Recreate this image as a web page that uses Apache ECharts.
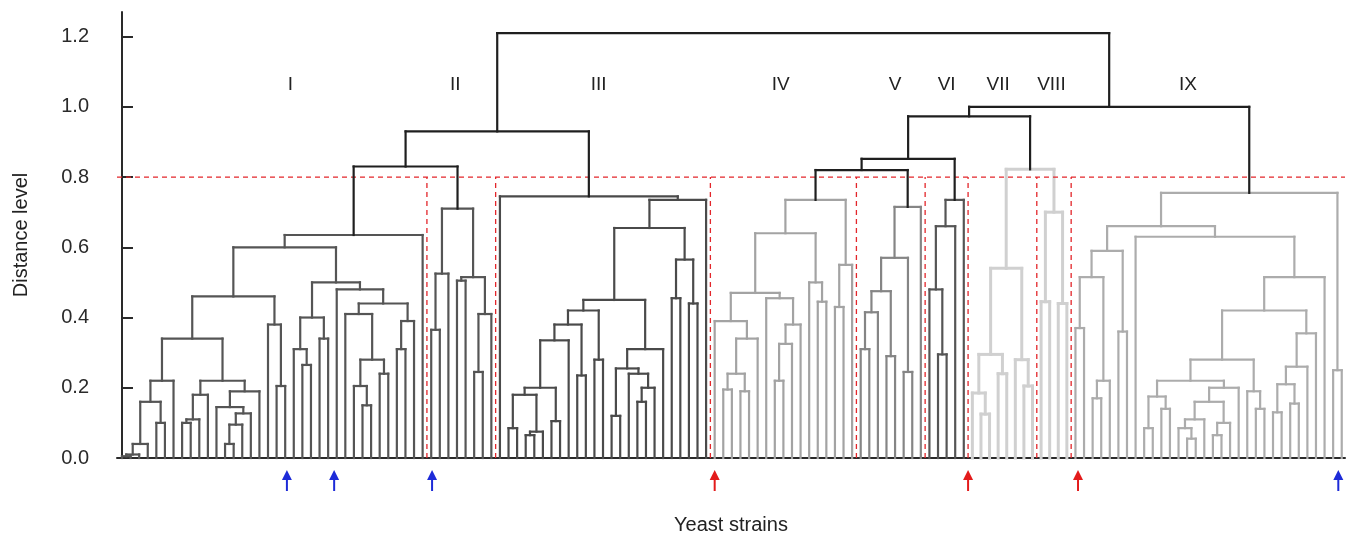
<!DOCTYPE html>
<html>
<head>
<meta charset="utf-8">
<script src="https://cdn.jsdelivr.net/npm/echarts@6/dist/echarts.min.js"></script>
<style>
html, body { margin: 0; padding: 0; background: #fff; }
#chart { width: 1349px; height: 540px; }
</style>
</head>
<body>
<div id="chart"></div>
<script>
// 树节点：[合并高度, 左子树, 右子树]，0 表示一个叶子（菌株）
const yTicks = [0, 0.2, 0.4, 0.6, 0.8, 1.0, 1.2]
const clusterNames = ['I', 'II', 'III', 'IV', 'V', 'VI', 'VII', 'VIII', 'IX']
const labelX = [19.6, 38.8, 55.5, 76.7, 90.0, 96.0, 102.0, 108.2, 124.1]
const labelY = 1.064
const cutLevel = 0.8
const blueArrows = [19.2, 24.7, 36.1, 141.6]
const redArrows = [69.0, 98.5, 111.3]

const treeI = [0.635,
    [0.60,
        [0.46,
            [0.34,
                [0.22, [0.16, [0.04, [0.01, [0.005, 0, 0], 0], 0], [0.10, 0, 0]], 0],
                [0.22,
                    [0.18, [0.11, [0.10, 0, 0], 0], 0],
                    [0.19, [0.145, 0, [0.127, [0.095, [0.04, 0, 0], 0], 0]], 0]]],
            [0.38, 0, [0.205, 0, 0]]],
        [0.50,
            [0.40, [0.31, 0, [0.265, 0, 0]], [0.34, 0, 0]],
            [0.48, 0,
                [0.44,
                    [0.41, 0, [0.28, [0.205, 0, [0.15, 0, 0]], [0.24, 0, 0]]],
                    [0.39, [0.31, 0, 0], 0]]]]],
    0]
const treeII = [0.71, [0.525, [0.365, 0, 0], 0], [0.515, [0.505, 0, 0], [0.41, [0.245, 0, 0], 0]]]
const treeIII = [0.745, 0,
    [0.735,
        [0.655,
            [0.45,
                [0.42,
                    [0.38,
                        [0.335, [0.20, [0.18, [0.085, 0, 0], [0.075, [0.065, 0, 0], 0]], [0.105, 0, 0]], 0],
                        [0.235, 0, 0]],
                    [0.28, 0, 0]],
                [0.31, [0.255, [0.12, 0, 0], [0.24, 0, [0.20, [0.16, 0, 0], 0]]], 0]],
            [0.565, [0.455, 0, 0], [0.44, 0, 0]]],
        0]]
const treeIV = [0.735,
    [0.64,
        [0.47,
            [0.39, 0, [0.34, [0.24, [0.195, 0, 0], [0.19, 0, 0]], 0]],
            [0.455, 0, [0.38, [0.325, [0.22, 0, 0], 0], 0]]],
        [0.50, 0, [0.445, 0, 0]]],
    [0.55, [0.43, 0, 0], 0]]
const treeV = [0.715, [0.57, [0.475, [0.415, [0.31, 0, 0], 0], [0.29, 0, 0]], [0.245, 0, 0]], 0]
const treeVI = [0.735, [0.66, [0.48, 0, [0.295, 0, 0]], 0], 0]
const treeVII = [0.54, [0.295, [0.185, 0, [0.125, 0, 0]], [0.24, 0, 0]], [0.28, 0, [0.205, 0, 0]]]
const treeVIII = [0.70, [0.445, 0, 0], [0.44, 0, 0]]
const treeIX = [0.755,
    [0.66,
        [0.59, [0.515, [0.37, 0, 0], [0.22, [0.17, 0, 0], 0]], [0.36, 0, 0]],
        [0.63, 0,
            [0.515,
                [0.42,
                    [0.28,
                        [0.22,
                            [0.175, [0.085, 0, 0], [0.14, 0, 0]],
                            [0.20, [0.16, [0.11, [0.085, 0, [0.055, 0, 0]], 0], [0.10, [0.065, 0, 0], 0]], 0]],
                        [0.19, 0, [0.14, 0, 0]]],
                    [0.355, [0.26, [0.21, [0.13, 0, 0], [0.155, 0, 0]], 0], 0]],
                0]]],
    [0.25, 0, 0]]
const clusterTrees = [treeI, treeII, treeIII, treeIV, treeV, treeVI, treeVII, treeVIII, treeIX]
// 顶层连接（第 4 项为颜色分组覆盖）
const topTree = [1.21,
    [0.93, [0.83, 'I', 'II'], 'III'],
    [1.0, [0.973, [0.852, [0.82, 'IV', 'V'], 'VI'], [0.822, 'VII', 'VIII', 'VII']], 'IX']]

const lineStyles = {
    top: ['#1f1f1f', 2.2],
    I: ['#555', 2.2],
    II: ['#555', 2.2],
    III: ['#4a4a4a', 2.2],
    IV: ['#a3a3a3', 2.2],
    V: ['#858585', 2.2],
    VI: ['#555', 2.2],
    VII: ['#d0d0d0', 3],
    VIII: ['#d0d0d0', 3],
    IX: ['#acacac', 2.2],
}

// 布局：叶子按顺序编号，节点位于两个子节点中点
let leafIdx = 0
const segs = []
const segGroups = []
const clusterStarts = []
function layout(node, group) {
    if (node === 0) {
        return { x: leafIdx++, y: 0 }
    }
    if (typeof node === 'string') {
        clusterStarts.push(leafIdx)
        return layout(clusterTrees[clusterNames.indexOf(node)], node)
    }
    const g = node[3] || group
    const a = layout(node[1], group)
    const b = layout(node[2], group)
    const h = node[0]
    segs.push([a.x, h, b.x, h], [a.x, a.y, a.x, h], [b.x, b.y, b.x, h])
    segGroups.push(g, g, g)
    return { x: (a.x + b.x) / 2, y: h }
}
layout(topTree, 'top')

const xMin = -0.58
const xMax = 142.38

const clusterSegs = []
const clusterSegGroups = []
const topSegs = []
segs.forEach((s, i) => {
    if (segGroups[i] === 'top') {
        topSegs.push(s)
    } else {
        clusterSegs.push(s)
        clusterSegGroups.push(segGroups[i])
    }
})

const cutSegs = [[xMin, cutLevel, xMax, cutLevel]]
clusterStarts.slice(1).forEach(s => cutSegs.push([s - 0.5, 0, s - 0.5, cutLevel]))

function segRender(groups, fixedStyle) {
    return function (params, api) {
        const p1 = api.coord([api.value(0), api.value(1)])
        const p2 = api.coord([api.value(2), api.value(3)])
        const st = fixedStyle || lineStyles[groups[params.dataIndex]]
        return {
            type: 'line',
            shape: { x1: p1[0], y1: p1[1], x2: p2[0], y2: p2[1] },
            style: {
                stroke: st[0],
                lineWidth: st[1],
                lineCap: st[2] ? 'butt' : 'square',
                lineDash: st[2] || null,
            },
        }
    }
}

function arrowRender(color) {
    return function (params, api) {
        const p = api.coord([api.value(0), 0])
        const x = p[0]
        const y = p[1] + 12
        return {
            type: 'group',
            children: [
                { type: 'polygon', shape: { points: [[x, y], [x - 5, y + 10], [x + 5, y + 10]] }, style: { fill: color } },
                { type: 'line', shape: { x1: x, y1: y + 8, x2: x, y2: y + 21 }, style: { stroke: color, lineWidth: 2 } },
            ],
        }
    }
}

const chart = echarts.init(document.getElementById('chart'))
chart.setOption({
    animation: false,
    textStyle: { fontFamily: '"Liberation Sans", Arial, sans-serif' },
    grid: { left: 117, right: 4, top: 12, bottom: 78 },
    xAxis: {
        type: 'value',
        min: xMin,
        max: xMax,
        name: 'Yeast strains',
        nameLocation: 'middle',
        nameGap: 57,
        nameTextStyle: { fontSize: 20, color: '#222' },
        axisLine: { show: true, onZero: false, lineStyle: { color: '#2a2a2a', width: 2 } },
        axisTick: { show: false },
        axisLabel: { show: false },
        splitLine: { show: false },
    },
    yAxis: {
        type: 'value',
        min: 0,
        max: 1.27,
        name: 'Distance level',
        nameLocation: 'middle',
        nameGap: 86,
        nameTextStyle: { fontSize: 20, color: '#222' },
        axisLine: { show: true, lineStyle: { color: '#2a2a2a', width: 2 } },
        axisTick: { show: true, inside: true, length: 11, customValues: yTicks, lineStyle: { color: '#2a2a2a', width: 2 } },
        axisLabel: {
            customValues: yTicks,
            margin: 28,
            fontSize: 20,
            color: '#2a2a2a',
            formatter: v => (+v).toFixed(1),
        },
        splitLine: { show: false },
    },
    series: [
        {
            type: 'custom',
            renderItem: segRender(clusterSegGroups),
            data: clusterSegs,
            encode: { x: [0, 2], y: [1, 3] },
            silent: true,
        },
        {
            type: 'custom',
            renderItem: segRender(null, ['#e3262b', 1.3, [5, 4]]),
            data: cutSegs,
            encode: { x: [0, 2], y: [1, 3] },
            silent: true,
        },
        {
            type: 'custom',
            renderItem: segRender(null, lineStyles.top),
            data: topSegs,
            encode: { x: [0, 2], y: [1, 3] },
            silent: true,
        },
        {
            type: 'custom',
            renderItem: (params, api) => {
                const p = api.coord([api.value(0), api.value(1)])
                return {
                    type: 'text',
                    x: p[0],
                    y: p[1],
                    style: {
                        text: clusterNames[params.dataIndex],
                        fill: '#222',
                        font: '19px "Liberation Sans", Arial, sans-serif',
                        align: 'center',
                        verticalAlign: 'middle',
                    },
                }
            },
            data: labelX.map(x => [x, labelY]),
            silent: true,
        },
        {
            type: 'custom',
            renderItem: arrowRender('#1d2bd8'),
            data: blueArrows.map(x => [x, 0]),
            clip: false,
            silent: true,
        },
        {
            type: 'custom',
            renderItem: arrowRender('#e31b1b'),
            data: redArrows.map(x => [x, 0]),
            clip: false,
            silent: true,
        },
    ],
})
</script>
</body>
</html>
